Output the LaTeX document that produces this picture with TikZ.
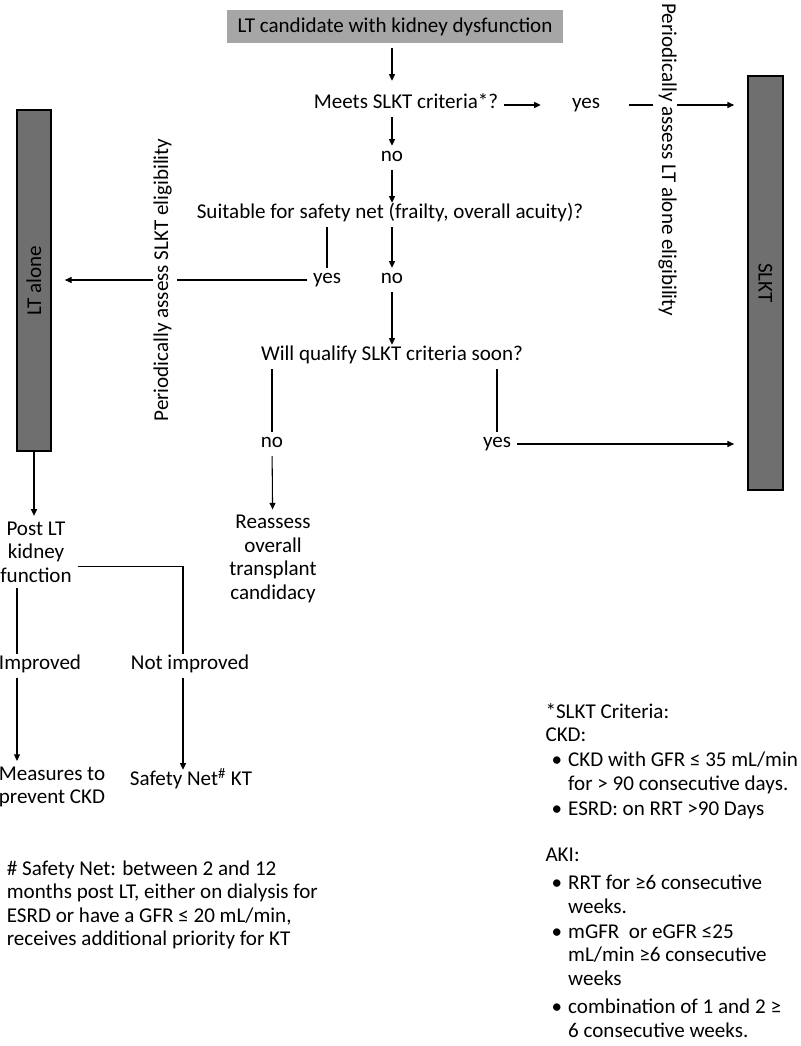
\documentclass[tikz,border=0pt]{standalone}
\usepackage{fontspec}
\setmainfont{Carlito}
\usepackage{tikz}
\usetikzlibrary{arrows.meta,positioning}
\definecolor{boxgray}{HTML}{A6A6A6}
\definecolor{bargray}{HTML}{6F6F6F}
\def \px {0.75pt}
\newcommand{\blt}{\makebox[17pt][l]{\hspace{4.5pt}\textbullet}}

\begin{document}
\begin{tikzpicture}[x=\px,y=-\px,font=\fontsize{15.8}{17.6}\selectfont,
    >={Triangle[length=5pt,width=4.5pt]},line width=0.8pt,
    lbl/.style={inner sep=4pt,text height=0.7em,text depth=0.25em},
    txt/.style={inner sep=4pt,align=center},
    bar/.style={draw=black,fill=bargray,line width=0.8pt,inner sep=0pt}]
    \useasboundingbox (0,0) rectangle (800,1046);
    \node[fill=boxgray,minimum width=336*\px,minimum height=33*\px] (top) at (395,26.5) {LT candidate with kidney dysfunction};
    \node[lbl] (meets) at (406,105) {Meets SLKT criteria*?};
    \node[lbl] (yes1) at (586,105) {yes};
    \node[lbl,rotate=-90] (lae) at (665,160) {Periodically assess LT alone eligibility};
    \node[bar,rotate=-90,minimum width=414*\px,minimum height=35*\px] (slkt) at (765.5,283) {SLKT};
    \node[lbl] (no1) at (392,158) {no};
    \node[lbl] (suit) at (390,215) {Suitable for safety net (frailty, overall acuity)?};
    \node[lbl] (yes2) at (327,280) {yes};
    \node[lbl] (no2) at (392,280) {no};
    \node[lbl,rotate=90] (lse) at (165,280) {Periodically assess SLKT eligibility};
    \node[bar,rotate=90,minimum width=341*\px,minimum height=34*\px] (lta) at (34,280.5) {LT alone};
    \node[lbl] (will) at (392,357) {Will qualify SLKT criteria soon?};
    \node[lbl] (no3) at (272,444) {no};
    \node[lbl] (yes3) at (497,444) {yes};
    \node[txt] (reas) at (273,559) {Reassess\\overall\\transplant\\candidacy};
    \node[txt] (post) at (36,552) {Post LT\\kidney\\function};
    \node[lbl] (impr) at (40,666) {Improved};
    \node[lbl] (notimpr) at (190,666) {Not improved};
    \node[txt] (meas) at (52,787) {Measures to\\prevent CKD};
    \node[lbl] (sn) at (191,782) {Safety Net\textsuperscript{\#} KT};
    \coordinate (cl) at (17,600);
    \coordinate (cr) at (183,600);
    \node[txt,align=left,anchor=west] (foot) at (1,905) {\# Safety Net: between 2 and 12\\months post LT, either on dialysis for\\ESRD or have a GFR ≤ 20 mL/min,\\receives additional priority for KT};
    \node[txt,align=left,anchor=north west,inner sep=0pt] (crit) at (545,703) {*SLKT Criteria:\\CKD:\\[1pt]
      \blt CKD with GFR ≤ 35 mL/min\\\hspace*{17pt}for > 90 consecutive days.\\[1pt]
      \blt ESRD: on RRT >90 Days\\[17pt]
      AKI:\\[4pt]
      \blt RRT for ≥6 consecutive\\\hspace*{17pt}weeks.\\[1pt]
      \blt mGFR\ \ or eGFR ≤25\\\hspace*{17pt}mL/min ≥6 consecutive\\\hspace*{17pt}weeks\\[4pt]
      \blt combination of 1 and 2 ≥\\\hspace*{17pt}6 consecutive weeks.};
    \draw[->,shorten <=3pt,shorten >=9pt] (top.south -| no1) -- (meets.north -| no1);
    \draw[->] (meets.south -| no1) -- (no1);
    \draw[->] (no1) -- (suit.north -| no1);
    \draw[->,shorten >=19pt] (meets) -- (yes1);
    \draw[shorten <=17pt] (yes1) -- (yes1 -| lae.south);
    \draw[->,shorten >=10pt] (yes1 -| lae.north) -- (yes1 -| slkt.south);
    \draw (suit.south -| yes2) -- (yes2);
    \draw[->] (suit.south -| no2) -- (no2);
    \draw (yes2) -- (yes2 -| lse.south);
    \draw[->,shorten >=10pt] (yes2 -| lse.north) -- (yes2 -| lta.south);
    \draw[->] (no2) -- (will.north -| no2);
    \draw (will.south -| no3) -- (no3);
    \draw (will.south -| yes3) -- (yes3);
    \draw[->] (no3) -- (reas);
    \draw[->,shorten >=10pt] (yes3) -- (yes3 -| slkt.south);
    \draw[->] (lta.west) -- (lta.west |- post.north);
    \draw (post.south -| cl) -- (impr.north -| cl);
    \draw[->] (impr.south -| cl) -- (meas.north -| cl);
    \draw ([yshift=-11pt]post.east) -| (notimpr.north -| cr);
    \draw[->] (notimpr.south -| cr) -- (sn.north -| cr);
  \end{tikzpicture}
\end{document}
